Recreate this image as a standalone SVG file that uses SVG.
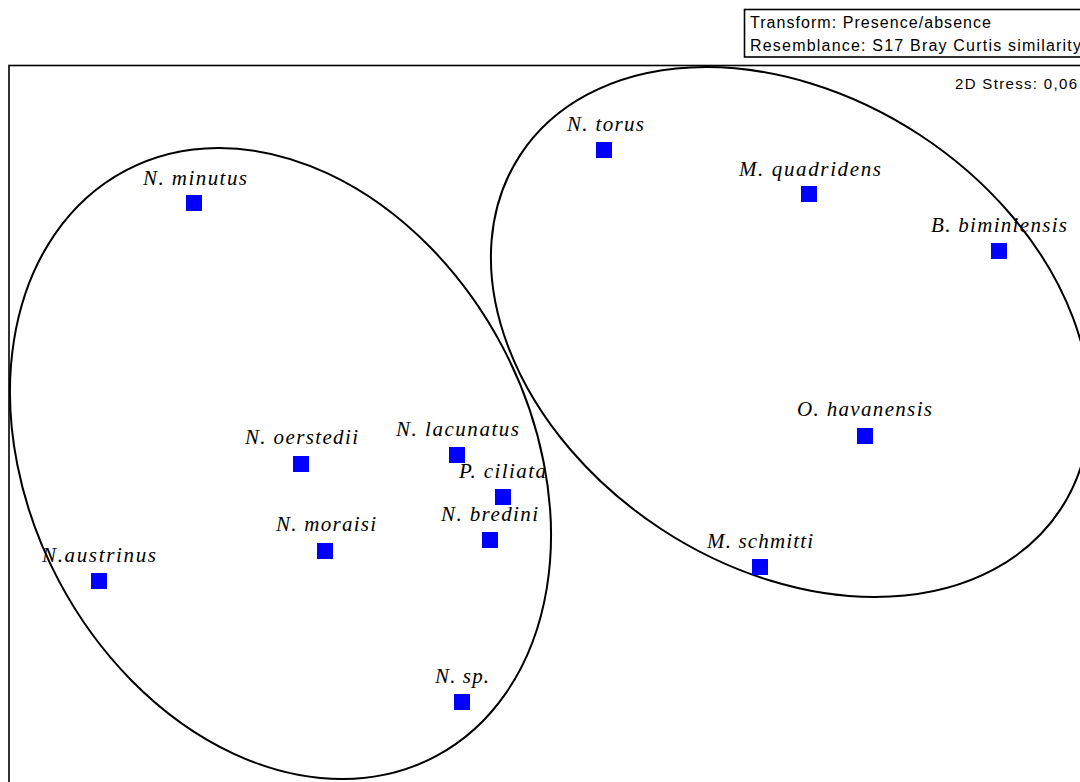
<svg xmlns="http://www.w3.org/2000/svg" width="1080" height="782" viewBox="0 0 1080 782">
<style>
.frame{fill:none;stroke:#000;stroke-width:1.6}
.hull{fill:none;stroke:#000;stroke-width:2}
.pt{fill:#0000FF}
.lbl{font-family:"Liberation Serif","Times New Roman",serif;font-style:italic;font-size:21px;fill:#000}
.info{font-family:"Liberation Sans",Arial,sans-serif;font-size:16px;fill:#000}
</style>
<rect width="1080" height="782" fill="#fff"/>
<rect class="frame" x="9" y="65.5" width="1100" height="800"/>
<rect class="frame" x="744.5" y="9.5" width="400" height="47.5"/>
<text class="info" x="750" y="28.3" textLength="241" lengthAdjust="spacing">Transform: Presence/absence</text>
<text class="info" x="750" y="50.5" textLength="331" lengthAdjust="spacing">Resemblance: S17 Bray Curtis similarity</text>
<text class="info" x="955" y="89" style="font-size:15px" textLength="122" lengthAdjust="spacing">2D Stress: 0,06</text>
<g id="clusters">
<ellipse class="hull" cx="280.5" cy="463.5" rx="331.4" ry="250.8" transform="rotate(62.1 280.5 463.5)"/>
<ellipse class="hull" cx="790.5" cy="332" rx="323.1" ry="235.7" transform="rotate(33.2 790.5 332)"/>
</g>
<g id="connectors"/>
<g id="n-minutus"><rect class="pt" x="186" y="195" width="16" height="16"/><text class="lbl" x="143" y="185" textLength="104" lengthAdjust="spacing">N. minutus</text></g>
<g id="n-torus"><rect class="pt" x="596" y="142" width="16" height="16"/><text class="lbl" x="567" y="131" textLength="77" lengthAdjust="spacing">N. torus</text></g>
<g id="m-quadridens"><rect class="pt" x="801" y="186" width="16" height="16"/><text class="lbl" x="739" y="175.5" textLength="142" lengthAdjust="spacing">M. quadridens</text></g>
<g id="b-biminiensis"><rect class="pt" x="991" y="243" width="16" height="16"/><text class="lbl" x="931" y="232.3" textLength="136" lengthAdjust="spacing">B. biminiensis</text></g>
<g id="n-oerstedii"><rect class="pt" x="293" y="456" width="16" height="16"/><text class="lbl" x="245" y="444.3" textLength="113" lengthAdjust="spacing">N. oerstedii</text></g>
<g id="n-lacunatus"><rect class="pt" x="449" y="447" width="16" height="16"/><text class="lbl" x="396" y="436" textLength="123" lengthAdjust="spacing">N. lacunatus</text></g>
<g id="p-ciliata"><rect class="pt" x="495" y="489" width="16" height="16"/><text class="lbl" x="459" y="477.7" textLength="87" lengthAdjust="spacing">P. ciliata</text></g>
<g id="n-bredini"><rect class="pt" x="482" y="532" width="16" height="16"/><text class="lbl" x="441" y="521" textLength="97" lengthAdjust="spacing">N. bredini</text></g>
<g id="n-moraisi"><rect class="pt" x="317" y="543" width="16" height="16"/><text class="lbl" x="276" y="530.7" textLength="100" lengthAdjust="spacing">N. moraisi</text></g>
<g id="n-austrinus"><rect class="pt" x="91" y="573" width="16" height="16"/><text class="lbl" x="42" y="561.7" textLength="114" lengthAdjust="spacing">N.austrinus</text></g>
<g id="o-havanensis"><rect class="pt" x="857" y="428" width="16" height="16"/><text class="lbl" x="797" y="415.5" textLength="135" lengthAdjust="spacing">O. havanensis</text></g>
<g id="m-schmitti"><rect class="pt" x="752" y="559" width="16" height="16"/><text class="lbl" x="707" y="548.3" textLength="106" lengthAdjust="spacing">M. schmitti</text></g>
<g id="n-sp"><rect class="pt" x="454" y="694" width="16" height="16"/><text class="lbl" x="435" y="683.3" textLength="54" lengthAdjust="spacing">N. sp.</text></g>
</svg>
